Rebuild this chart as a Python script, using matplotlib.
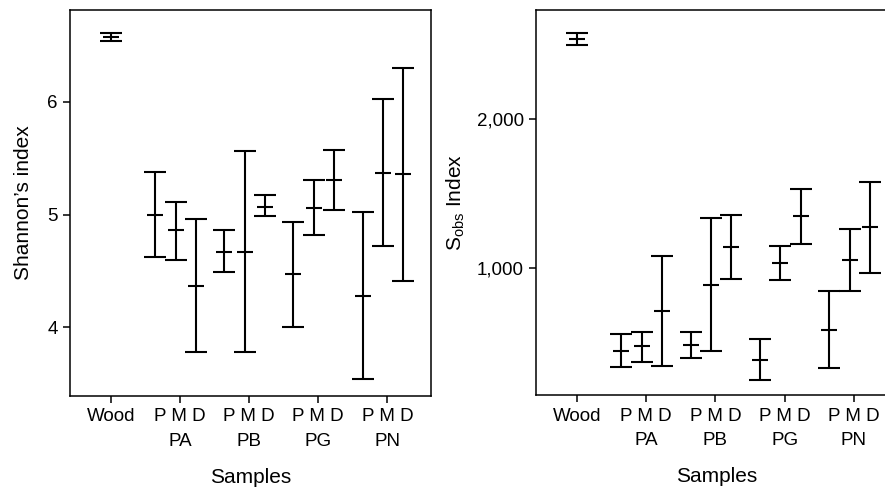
import matplotlib
matplotlib.use("Agg")
import matplotlib.pyplot as plt
import numpy as np
from matplotlib.ticker import FuncFormatter

plt.rcParams['font.family'] = ['Liberation Sans', 'DejaVu Sans']

groups = ['PA', 'PB', 'PG', 'PN']
parts = ['P', 'M', 'D']

# Wood reference: mean, low, high
shannon_wood = [6.57, 6.535, 6.61]
sobs_wood = [2536, 2496, 2576]

# order: PA P,M,D / PB P,M,D / PG P,M,D / PN P,M,D
shannon_mean = [5.00, 4.86, 4.37, 4.67, 4.67, 5.07, 4.47, 5.06, 5.31, 4.28, 5.37, 5.36]
shannon_low = [4.62, 4.60, 3.78, 4.49, 3.78, 4.99, 4.00, 4.82, 5.04, 3.54, 4.72, 4.41]
shannon_high = [5.38, 5.11, 4.96, 4.86, 5.56, 5.17, 4.93, 5.31, 5.57, 5.02, 6.02, 6.30]

sobs_mean = [440, 471, 711, 480, 883, 1137, 379, 1029, 1345, 579, 1054, 1272]
sobs_low = [332, 366, 339, 392, 437, 926, 242, 915, 1159, 325, 841, 962]
sobs_high = [552, 569, 1081, 565, 1332, 1354, 522, 1144, 1527, 841, 1258, 1574]

offsets = [-0.36, -0.06, 0.23]
tick_pos = np.arange(1, len(groups) + 2)
tick_labels = ['Wood'] + ['P M D\n' + g for g in groups]


def draw_panel(ax, wood, mean, low, high):
    xs = [tick_pos[i + 1] + off for i in range(len(groups)) for off in offsets]
    xs = [tick_pos[0]] + xs
    m = np.array([wood[0]] + mean)
    lo = np.array([wood[1]] + low)
    hi = np.array([wood[2]] + high)
    ax.errorbar(xs, m, yerr=[m - lo, hi - m], fmt='_', color='black',
                markersize=12, markeredgewidth=1.5, elinewidth=1.5,
                capsize=7.6, capthick=1.5)
    ax.set_xlim(0.41, 5.63)
    ax.set_xticks(tick_pos)
    ax.set_xticklabels(tick_labels, fontsize=13.5, linespacing=1.6)
    ax.set_xlabel('Samples', fontsize=15, labelpad=13)
    ax.tick_params(axis='both', direction='out', length=5, width=1.1,
                   labelsize=13.5, pad=4)
    for s in ax.spines.values():
        s.set_linewidth(1.1)


fig = plt.figure(figsize=(8.85, 4.92), dpi=100)
ax1 = fig.add_axes([0.0791, 0.1957, 0.4079, 0.784])
ax2 = fig.add_axes([0.606, 0.197, 0.408, 0.783])

draw_panel(ax1, shannon_wood, shannon_mean, shannon_low, shannon_high)
ax1.set_ylim(3.394, 6.813)
ax1.set_yticks([4, 5, 6])
ax1.set_ylabel('Shannon\u2019s index', fontsize=15, labelpad=10)

draw_panel(ax2, sobs_wood, sobs_mean, sobs_low, sobs_high)
ax2.set_ylim(144, 2733)
ax2.set_yticks([1000, 2000])
ax2.yaxis.set_major_formatter(FuncFormatter(lambda v, p: f'{int(v):,}'))
ax2.set_ylabel('$\\mathregular{S_{obs}}$ Index', fontsize=15, labelpad=7)

fig.savefig('out.png', dpi=100)
